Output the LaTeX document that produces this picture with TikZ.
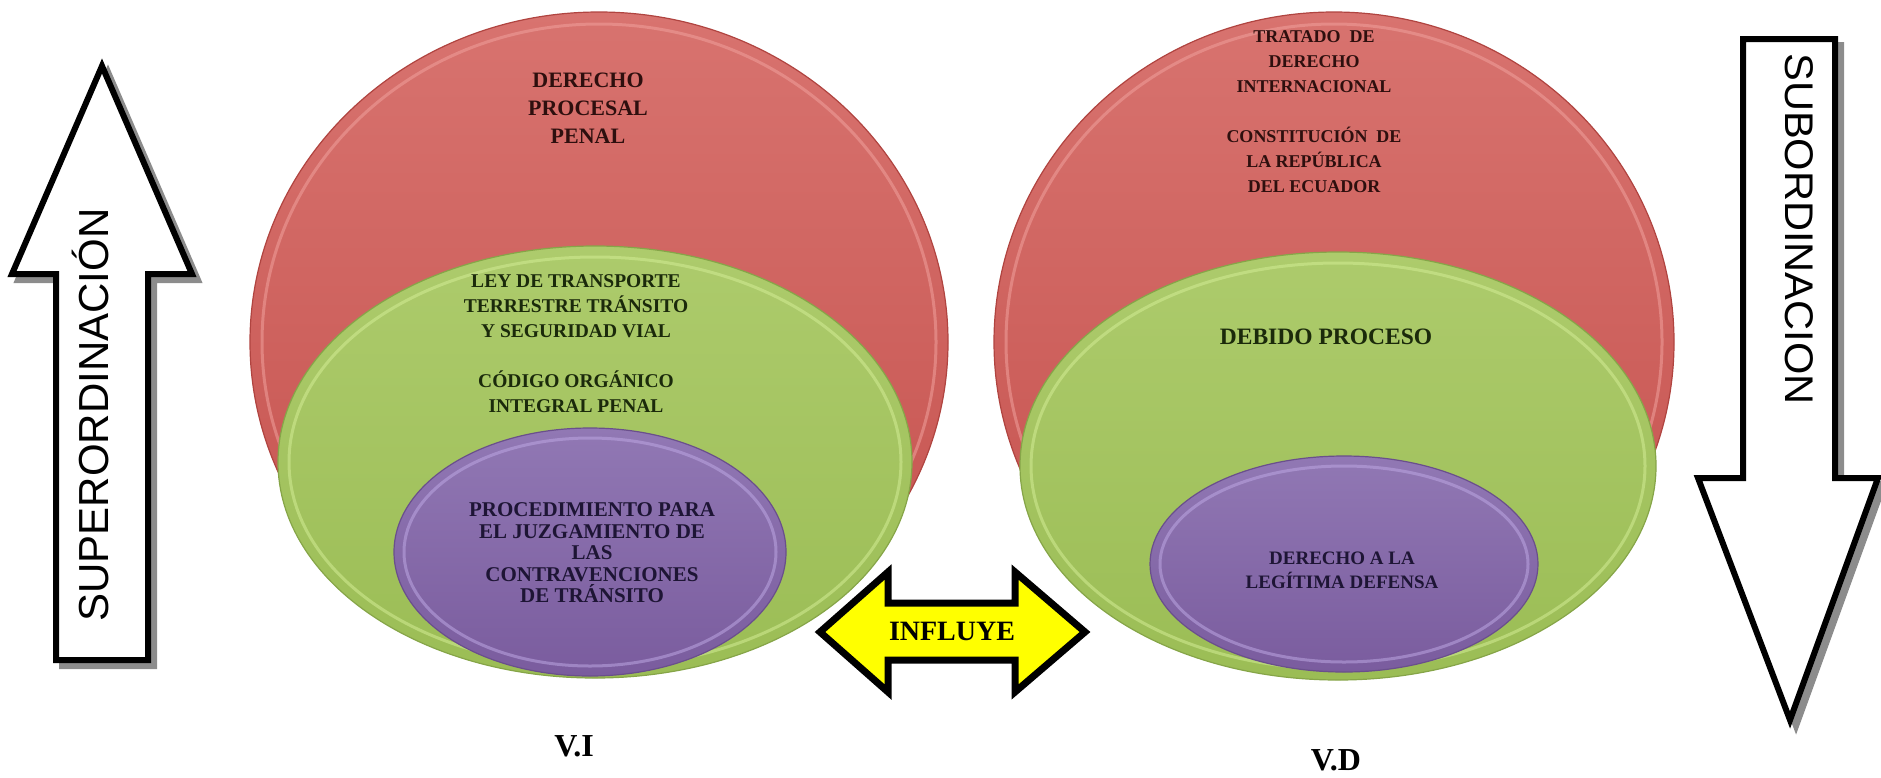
\documentclass[tikz,border=0pt]{standalone}
\usepackage{fontspec}
\usepackage{graphicx}
\setmainfont{Liberation Serif}
\newfontfamily\arialf{Liberation Sans}
\usetikzlibrary{shapes.geometric}
\definecolor{redtop}{HTML}{D8736F}
\definecolor{redbot}{HTML}{C4504C}
\definecolor{redrim}{HTML}{F0A09C}
\definecolor{redline}{HTML}{B04440}
\definecolor{greentop}{HTML}{ADCB6C}
\definecolor{greenbot}{HTML}{9BBD55}
\definecolor{greenrim}{HTML}{D2EC94}
\definecolor{greenline}{HTML}{86A548}
\definecolor{purptop}{HTML}{9178B4}
\definecolor{purpbot}{HTML}{7A5C9E}
\definecolor{purprim}{HTML}{BCA6E2}
\definecolor{purpline}{HTML}{6A4F8C}
\definecolor{redtext}{HTML}{2E0F0E}
\definecolor{greentext}{HTML}{1B2A0B}
\definecolor{purptext}{HTML}{1E1535}
\definecolor{yell}{HTML}{FFFF00}
\begin{document}
\begin{tikzpicture}[x=1pt,y=-1pt,
  oval/.style={ellipse, inner sep=0pt, line width=1.2pt},
  redoval/.style={oval, draw=redline, top color=redtop, bottom color=redbot},
  greenoval/.style={oval, draw=greenline, top color=greentop, bottom color=greenbot},
  purpoval/.style={oval, draw=purpline, top color=purptop, bottom color=purpbot},
  rim/.style={line width=3pt, opacity=0.55},
  lbl/.style={align=center, font=\bfseries},
  blockarrow/.style={draw=black, fill=white, line width=6pt, line join=miter},
  blockshadow/.style={fill=black!45, draw=black!45, line width=6pt, line join=miter}
]
\useasboundingbox (0,0) rectangle (1881,777);

% ---- left set
\node[redoval, minimum width=698pt, minimum height=660pt] (lred) at (599,342) {};
\draw[rim, redrim] (lred.center) ellipse [x radius=337pt, y radius=318pt];
\node[greenoval, minimum width=634pt, minimum height=432pt] (lgreen) at (595,462) {};
\draw[rim, greenrim] (lgreen.center) ellipse [x radius=306pt, y radius=205pt];
\node[purpoval, minimum width=392pt, minimum height=248pt] (lpurp) at (590,552) {};
\draw[rim, purprim] (lpurp.center) ellipse [x radius=186pt, y radius=114pt];

% ---- right set
\node[redoval, minimum width=680pt, minimum height=660pt] (rred) at (1334,342) {};
\draw[rim, redrim] (rred.center) ellipse [x radius=328pt, y radius=318pt];
\node[greenoval, minimum width=636pt, minimum height=428pt] (rgreen) at (1338,466) {};
\draw[rim, greenrim] (rgreen.center) ellipse [x radius=307pt, y radius=203pt];
\node[purpoval, minimum width=388pt, minimum height=216pt] (rpurp) at (1344,564) {};
\draw[rim, purprim] (rpurp.center) ellipse [x radius=184pt, y radius=98pt];

% ---- texts
\node[lbl, text=redtext, font=\bfseries\fontsize{22}{28}\selectfont] (tlred) at (588,108)
  {DERECHO\\PROCESAL\\PENAL};
\node[lbl, text=greentext, font=\bfseries\fontsize{19.5}{25}\selectfont] (tlgreen) at (576,344)
  {LEY DE TRANSPORTE\\TERRESTRE TRÁNSITO\\Y SEGURIDAD VIAL\\[25pt]CÓDIGO ORGÁNICO\\INTEGRAL PENAL};
\node[lbl, text=purptext, font=\bfseries\fontsize{21}{21.5}\selectfont] (tlpurp) at (592,553)
  {PROCEDIMIENTO PARA\\EL JUZGAMIENTO DE\\LAS\\CONTRAVENCIONES\\DE TRÁNSITO};
\node[lbl, text=redtext, font=\bfseries\fontsize{18}{25}\selectfont] (trred) at (1314,112)
  {TRATADO\ \ DE\\DERECHO\\INTERNACIONAL\\[25pt]CONSTITUCIÓN\ \ DE\\LA REPÚBLICA\\DEL ECUADOR};
\node[lbl, text=greentext, font=\bfseries\fontsize{23.5}{26}\selectfont] (trgreen) at (1326,337)
  {DEBIDO PROCESO};
\node[lbl, text=purptext, font=\bfseries\fontsize{19}{24}\selectfont] (trpurp) at (1342,570)
  {DERECHO A LA\\LEGÍTIMA DEFENSA};

\node[lbl, font=\bfseries\fontsize{32}{32}\selectfont] (vi) at (574,746) {V.I};
\node[lbl, font=\bfseries\fontsize{32}{32}\selectfont] (vd) at (1336,760) {V.D};

% ---- influye double arrow
\draw[draw=black, fill=yell, line width=7pt, line join=miter]
  (820,632) -- (888,572) -- (888,603) -- (1015,603) -- (1015,572) -- (1085,632)
  -- (1015,692) -- (1015,660) -- (888,660) -- (888,692) -- cycle;
\node[lbl, font=\bfseries\fontsize{28}{28}\selectfont] (inf) at (952,631) {INFLUYE};

% ---- left up arrow (superordinación)
\path[blockshadow] (108,72) -- (198,280) -- (154,280) -- (154,666) -- (62,666) -- (62,280) -- (18,280) -- cycle;
\path[blockarrow] (102,66) -- (192,274) -- (148,274) -- (148,660) -- (56,660) -- (56,274) -- (12,274) -- cycle;
\node[rotate=90, anchor=base, inner sep=0pt, font=\arialf\fontsize{42}{42}\selectfont] (sup) at (108,415) {SUPERORDINACIÓN};

% ---- right down arrow (subordinacion)
\path[blockshadow] (1749,45) -- (1841,45) -- (1841,484) -- (1884,484) -- (1796,726) -- (1704,484) -- (1749,484) -- cycle;
\path[blockarrow] (1743,39) -- (1835,39) -- (1835,478) -- (1878,478) -- (1790,720) -- (1698,478) -- (1743,478) -- cycle;
\node[rotate=-90, anchor=base, inner sep=0pt, font=\arialf\fontsize{40}{40}\selectfont] (sub) at (1785,229) {\scalebox{1.04}[1]{SUBORDINACION}};
\end{tikzpicture}
\end{document}
